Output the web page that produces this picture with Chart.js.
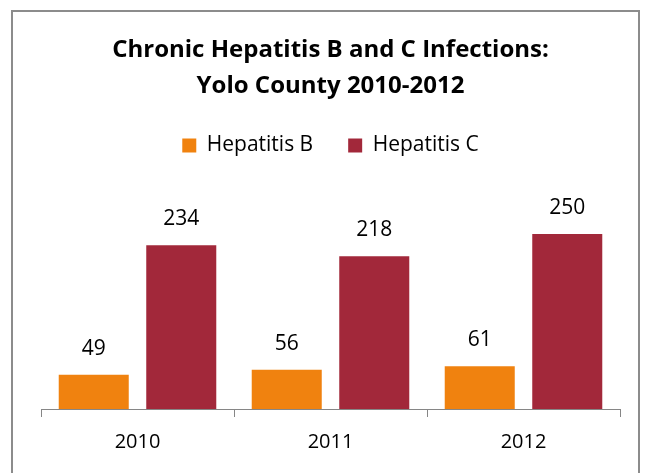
<!DOCTYPE html>
<html>
<head>
<meta charset="utf-8">
<script src="https://cdn.jsdelivr.net/npm/chart.js@4.4.0/dist/chart.umd.min.js"></script>
<style>
  body { margin: 0; background: #fff; }
  #wrap { width: 649px; height: 473px; position: relative; }
</style>
</head>
<body>
<div id="wrap"><canvas id="hepChart" width="649" height="473"></canvas></div>
<script>
// chart values
var years = ["2010", "2011", "2012"];
var hepB = [49, 56, 61];
var hepC = [234, 218, 250];
var seriesNames = ["Hepatitis B", "Hepatitis C"];
var titleLines = ["Chronic Hepatitis B and C Infections:", "Yolo County 2010-2012"];

var FONT = "'Open Sans', sans-serif";

// outer frame like the spreadsheet chart box
var framePlugin = {
  id: "frame",
  beforeDraw: function(chart) {
    var ctx = chart.ctx;
    ctx.save();
    ctx.fillStyle = "#fff";
    ctx.fillRect(0, 0, chart.width, chart.height);
    ctx.strokeStyle = "#8c8c8c";
    ctx.lineWidth = 2;
    ctx.strokeRect(12, 11, 627, 480);
    ctx.restore();
  }
};

// value labels above each bar
var valueLabels = {
  id: "valueLabels",
  afterDatasetsDraw: function(chart) {
    var ctx = chart.ctx;
    ctx.save();
    ctx.font = "21px " + FONT;
    ctx.fillStyle = "#000";
    ctx.textAlign = "center";
    ctx.textBaseline = "middle";
    chart.data.datasets.forEach(function(ds, i) {
      var meta = chart.getDatasetMeta(i);
      meta.data.forEach(function(bar, j) {
        ctx.fillText(ds.data[j], bar.x, bar.y - 26);
      });
    });
    ctx.restore();
  }
};

var ctx = document.getElementById("hepChart");
var hepChart = new Chart(ctx, {
  type: "bar",
  data: {
    labels: years,
    datasets: [
      { label: seriesNames[0], data: hepB, backgroundColor: "#F0820F" },
      { label: seriesNames[1], data: hepC, backgroundColor: "#A2283A" }
    ]
  },
  options: {
    responsive: false,
    animation: false,
    events: [],
    categoryPercentage: 0.907,
    barPercentage: 0.8,
    layout: { padding: { left: 41, right: 29, top: 0, bottom: 6 } },
    plugins: {
      title: {
        display: true,
        text: titleLines,
        color: "#000",
        font: { family: FONT, size: 24, weight: "bold", lineHeight: 1.5 },
        padding: { top: 32, bottom: -4 }
      },
      legend: {
        display: true,
        position: "top",
        labels: {
          boxWidth: 14,
          boxHeight: 14,
          color: "#000",
          padding: 35,
          font: { family: FONT, size: 21 }
        }
      },
      tooltip: { enabled: false }
    },
    scales: {
      x: {
        grid: {
          display: true,
          drawOnChartArea: false,
          drawTicks: true,
          tickLength: 8,
          color: "#868686"
        },
        border: { display: true, color: "#868686", width: 1 },
        ticks: {
          color: "#000",
          padding: 13,
          font: { family: FONT, size: 20 }
        }
      },
      y: {
        display: false,
        min: 0,
        max: 347
      }
    }
  },
  plugins: [framePlugin, valueLabels]
});
</script>
</body>
</html>
